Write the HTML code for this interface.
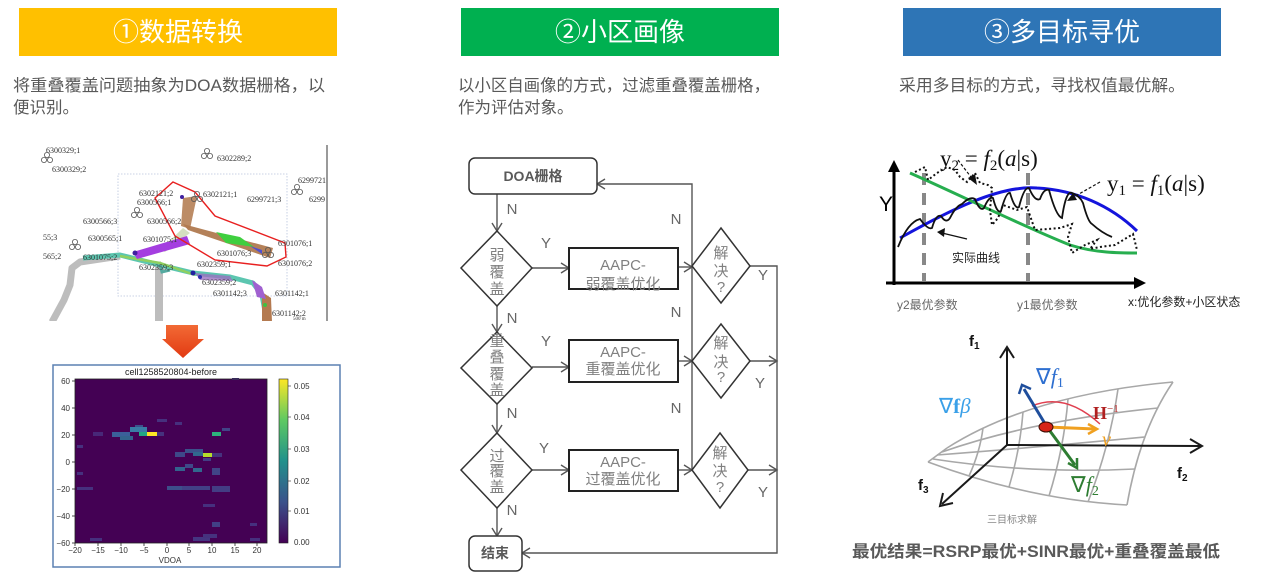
<!DOCTYPE html>
<html><head><meta charset="utf-8">
<style>
html,body{margin:0;padding:0;background:#fff;}
svg{display:block;}
.cjk{font-family:"Liberation Sans","Noto Sans CJK SC",sans-serif;}
</style></head>
<body>
<svg width="1267" height="577" viewBox="0 0 1267 577" xmlns="http://www.w3.org/2000/svg" class="cjk">
<defs>
<linearGradient id="vir" x1="0" y1="1" x2="0" y2="0">
<stop offset="0" stop-color="#440154"/><stop offset="0.25" stop-color="#3b528b"/><stop offset="0.5" stop-color="#21918c"/><stop offset="0.75" stop-color="#5ec962"/><stop offset="1" stop-color="#fde725"/>
</linearGradient>
<linearGradient id="redarr" x1="0" y1="0" x2="0" y2="1">
<stop offset="0" stop-color="#f26a35"/><stop offset="1" stop-color="#e23a12"/>
</linearGradient>
<clipPath id="mapclip"><rect x="40" y="145" width="289" height="176"/></clipPath>
<g id="fan"><circle cx="0" cy="-3" r="2.6" fill="none" stroke="#555" stroke-width="0.8"/><circle cx="-3" cy="2" r="2.6" fill="none" stroke="#555" stroke-width="0.8"/><circle cx="3" cy="2" r="2.6" fill="none" stroke="#555" stroke-width="0.8"/></g>
</defs>

<!-- Headers -->
<rect x="19" y="8" width="318" height="48" fill="#ffc000"/>
<text x="178" y="41" text-anchor="middle" font-size="26" fill="#fff">①数据转换</text>
<rect x="461" y="8" width="318" height="48" fill="#00b050"/>
<text x="620" y="41" text-anchor="middle" font-size="26" fill="#fff">②小区画像</text>
<rect x="903" y="8" width="318" height="48" fill="#2e75b6"/>
<text x="1062" y="41" text-anchor="middle" font-size="26" fill="#fff">③多目标寻优</text>

<!-- Description text -->
<g font-size="16.5" fill="#595959">
<text x="13" y="91" textLength="312" lengthAdjust="spacingAndGlyphs">将重叠覆盖问题抽象为DOA数据栅格，以</text>
<text x="13" y="113">便识别。</text>
<text x="458" y="91" textLength="312" lengthAdjust="spacingAndGlyphs">以小区自画像的方式，过滤重叠覆盖栅格，</text>
<text x="458" y="113">作为评估对象。</text>
<text x="899" y="91" textLength="286" lengthAdjust="spacingAndGlyphs">采用多目标的方式，寻找权值最优解。</text>
</g>

<!-- Map image -->
<g clip-path="url(#mapclip)">
<rect x="40" y="145" width="289" height="176" fill="#fff"/>
<rect x="118" y="174" width="169" height="122" fill="none" stroke="#b8c4dc" stroke-width="0.8" stroke-dasharray="1.5,1.5"/>
<line x1="327" y1="145" x2="327" y2="321" stroke="#9a9a9a" stroke-width="2"/>
<path d="M52,322 L64,300 L70,285 L72,268 L80,262 L120,256" fill="none" stroke="#bdbdbd" stroke-width="7" stroke-linejoin="round"/>
<path d="M159,322 L159,268 L163,264" fill="none" stroke="#bdbdbd" stroke-width="8"/>
<path d="M83,258 L120,255 L160,265 L193,273 L230,277 L253,283 L262,295 L267,322" fill="none" stroke="#5cc6b0" stroke-width="5" stroke-linejoin="round"/>
<path d="M120,256 L160,263 L195,275" fill="none" stroke="#8fd060" stroke-width="2.5"/>
<path d="M160,265 L162,272 L170,270" fill="none" stroke="#55aaa0" stroke-width="3"/>
<polygon points="183,198 197,196 190,229 181,226" fill="#b8865e" opacity="0.95"/>
<polygon points="183,224 188,230 270,258 273,248" fill="#b07a50" opacity="0.95"/>
<polygon points="183,228 160,250 165,252 190,233" fill="#c9d8b0" opacity="0.8"/>
<polygon points="216,232 240,237 254,247 226,243" fill="#3fcf3f"/>
<polygon points="133,252 187,236 190,244 137,259" fill="#a43ee0"/>
<polygon points="250,246 262,250 262,254" fill="#5050d0"/>
<polygon points="262,292 271,298 272,322 262,322" fill="#b47a50"/>
<polygon points="252,280 262,287 266,299 257,297" fill="#a060d0"/>
<polygon points="195,273 230,276 233,281 200,280" fill="#9a70c0" opacity="0.8"/>
<circle cx="193" cy="273" r="2.5" fill="#2020a0"/><circle cx="200" cy="277" r="2" fill="#3030b0"/>
<circle cx="135" cy="253" r="2.5" fill="#4020a0"/><circle cx="182" cy="197" r="2" fill="#4020a0"/>
<circle cx="265" cy="305" r="2" fill="#40c040"/>
<polygon points="173,182 195,192 215,216 285,243 286,257 267,266 215,260 175,236 155,198" fill="none" stroke="#e82020" stroke-width="1.4"/>
<g font-family="Liberation Serif,serif" font-size="8" fill="#333">
<text x="46" y="153">6300329;1</text>
<text x="52" y="172">6300329;2</text>
<text x="217" y="161">6302289;2</text>
<text x="298" y="183">6299721</text>
<text x="309" y="202">6299</text>
<text x="139" y="196">6302121;2</text>
<text x="203" y="197">6302121;1</text>
<text x="247" y="202">6299721;3</text>
<text x="137" y="205">6300566;1</text>
<text x="83" y="224">6300566;3</text>
<text x="147" y="224">6300566;2</text>
<text x="43" y="240">55;3</text>
<text x="88" y="241">6300565;1</text>
<text x="143" y="242">6301075;1</text>
<text x="278" y="246">6301076;1</text>
<text x="43" y="259">565;2</text>
<text x="83" y="260">6301075;2</text>
<text x="217" y="256">6301076;3</text>
<text x="278" y="266">6301076;2</text>
<text x="197" y="267">6302359;1</text>
<text x="139" y="270">6302359;3</text>
<text x="202" y="285">6302359;2</text>
<text x="213" y="296">6301142;3</text>
<text x="275" y="296">6301142;1</text>
<text x="272" y="316">6301142;2</text>
<text x="293" y="320" font-size="5">500 m</text>
</g>
<use href="#fan" x="137" y="213"/><use href="#fan" x="75" y="245"/><use href="#fan" x="297" y="190"/><use href="#fan" x="207" y="154"/><use href="#fan" x="47" y="158"/><use href="#fan" x="268" y="253"/><use href="#fan" x="197" y="197"/>
</g>

<!-- Red arrow -->
<polygon points="166,325 198,325 198,339 204,339 183,358 162,339 166,339" fill="url(#redarr)"/>

<!-- Heatmap -->
<rect x="53" y="365" width="287" height="202" fill="#fff" stroke="#5b80b2" stroke-width="1.5"/>
<text x="171" y="375" text-anchor="middle" font-size="9" fill="#222">cell1258520804-before</text>
<rect x="75" y="379" width="192" height="164" fill="#440154"/>
<g>
<rect x="147" y="432" width="10" height="4" fill="#fde725"/>
<rect x="139" y="432" width="8" height="4" fill="#22a884"/>
<rect x="130" y="427" width="17" height="5" fill="#3a7ca5"/>
<rect x="135" y="425" width="8" height="2" fill="#3b528b"/>
<rect x="112" y="432" width="18" height="5" fill="#3b5f9a"/>
<rect x="120" y="436" width="13" height="4" fill="#33638d"/>
<rect x="93" y="432" width="10" height="4" fill="#482878"/>
<rect x="157" y="432" width="7" height="4" fill="#46327e"/>
<rect x="212" y="432" width="9" height="4" fill="#2db27d"/>
<rect x="222" y="428" width="8" height="3" fill="#414487"/>
<rect x="203" y="453" width="9" height="4" fill="#b5de2b"/>
<rect x="185" y="449" width="18" height="4" fill="#3b528b"/>
<rect x="193" y="452" width="10" height="4" fill="#31688e"/>
<rect x="175" y="452" width="10" height="5" fill="#3e4989"/>
<rect x="212" y="453" width="10" height="4" fill="#46327e"/>
<rect x="203" y="458" width="8" height="3" fill="#433e85"/>
<rect x="175" y="467" width="10" height="4" fill="#33638d"/>
<rect x="185" y="464" width="8" height="4" fill="#3e4a89"/>
<rect x="193" y="468" width="9" height="4" fill="#31688e"/>
<rect x="212" y="468" width="8" height="7" fill="#414487"/>
<rect x="167" y="486" width="15" height="4" fill="#3d4e8a"/>
<rect x="182" y="486" width="28" height="4" fill="#424086"/>
<rect x="212" y="486" width="18" height="6" fill="#433d84"/>
<rect x="77" y="487" width="16" height="3" fill="#46307e"/>
<rect x="212" y="522" width="8" height="5" fill="#424086"/>
<rect x="193" y="537" width="17" height="4" fill="#453581"/>
<rect x="203" y="534" width="14" height="4" fill="#46327e"/>
<rect x="77" y="445" width="6" height="3" fill="#46307e"/>
<rect x="77" y="472" width="6" height="3" fill="#46307e"/>
<rect x="250" y="523" width="7" height="3" fill="#46307e"/>
<rect x="232" y="378" width="7" height="2" fill="#46307e"/>
<rect x="157" y="419" width="10" height="3" fill="#46307e"/>
<rect x="175" y="422" width="7" height="3" fill="#46307e"/>
<rect x="203" y="504" width="12" height="3" fill="#46307e"/>
<rect x="90" y="538" width="12" height="3" fill="#46307e"/>
<rect x="250" y="538" width="10" height="3" fill="#46307e"/>
</g>
<rect x="75" y="379" width="192" height="164" fill="none" stroke="#222" stroke-width="0.8"/>
<g stroke="#222" stroke-width="0.8">
<line x1="72" y1="381" x2="75" y2="381"/><line x1="72" y1="408" x2="75" y2="408"/><line x1="72" y1="435" x2="75" y2="435"/><line x1="72" y1="462" x2="75" y2="462"/><line x1="72" y1="489" x2="75" y2="489"/><line x1="72" y1="516" x2="75" y2="516"/><line x1="72" y1="543" x2="75" y2="543"/>
<line x1="75" y1="543" x2="75" y2="546"/><line x1="98" y1="543" x2="98" y2="546"/><line x1="121" y1="543" x2="121" y2="546"/><line x1="144" y1="543" x2="144" y2="546"/><line x1="167" y1="543" x2="167" y2="546"/><line x1="189" y1="543" x2="189" y2="546"/><line x1="212" y1="543" x2="212" y2="546"/><line x1="235" y1="543" x2="235" y2="546"/><line x1="257" y1="543" x2="257" y2="546"/>
</g>
<g font-size="8" fill="#333" text-anchor="end">
<text x="70" y="384">60</text><text x="70" y="411">40</text><text x="70" y="438">20</text><text x="70" y="465">0</text><text x="70" y="492">−20</text><text x="70" y="519">−40</text><text x="70" y="546">−60</text>
</g>
<g font-size="8" fill="#333" text-anchor="middle">
<text x="75" y="553">−20</text><text x="98" y="553">−15</text><text x="121" y="553">−10</text><text x="144" y="553">−5</text><text x="167" y="553">0</text><text x="189" y="553">5</text><text x="212" y="553">10</text><text x="235" y="553">15</text><text x="257" y="553">20</text>
<text x="170" y="563">VDOA</text>
</g>
<rect x="279" y="379" width="9" height="164" fill="url(#vir)" stroke="#222" stroke-width="0.6"/>
<g font-size="8" fill="#333">
<text x="294" y="389">0.05</text><text x="294" y="420">0.04</text><text x="294" y="452">0.03</text><text x="294" y="484">0.02</text><text x="294" y="514">0.01</text><text x="294" y="545">0.00</text>
</g>
<g stroke="#222" stroke-width="0.6"><line x1="288" y1="386" x2="291" y2="386"/><line x1="288" y1="417" x2="291" y2="417"/><line x1="288" y1="449" x2="291" y2="449"/><line x1="288" y1="481" x2="291" y2="481"/><line x1="288" y1="511" x2="291" y2="511"/></g>

<!-- Flowchart -->
<g fill="none" stroke="#555" stroke-width="1.4">
<line x1="497" y1="194" x2="497" y2="231"/><polyline points="492,223 497,231 502,223"/>
<line x1="532" y1="268" x2="569" y2="268"/><polyline points="561,263 569,268 561,273"/>
<line x1="678" y1="267" x2="692" y2="267"/><polyline points="684,262 692,267 684,272"/>
<polyline points="750,266 777,266 777,553 522,553"/><polyline points="530,548 522,553 530,558"/>
<polyline points="692,470 692,184 597,184"/><polyline points="605,179 597,184 605,189"/>
<line x1="497" y1="306" x2="497" y2="332"/><polyline points="492,324 497,332 502,324"/>
<line x1="532" y1="367" x2="569" y2="367"/><polyline points="561,362 569,367 561,372"/>
<line x1="678" y1="361" x2="692" y2="361"/><polyline points="684,356 692,361 684,366"/>
<line x1="750" y1="361" x2="777" y2="361"/><polyline points="769,356 777,361 769,366"/>
<line x1="497" y1="404" x2="497" y2="433"/><polyline points="492,425 497,433 502,425"/>
<line x1="532" y1="470" x2="569" y2="470"/><polyline points="561,465 569,470 561,475"/>
<line x1="678" y1="470" x2="692" y2="470"/><polyline points="684,465 692,470 684,475"/>
<line x1="748" y1="470" x2="777" y2="470"/><polyline points="769,465 777,470 769,475"/>
<line x1="497" y1="508" x2="497" y2="536"/><polyline points="492,528 497,536 502,528"/>
</g>
<g fill="#fff" stroke="#333" stroke-width="1.5">
<rect x="469" y="158" width="128" height="36" rx="6"/>
<polygon points="497,231 532,268 497,306 461,268"/>
<polygon points="721,228 750,266 721,303 692,266"/>
<polygon points="497,332 532,368 497,404 461,368"/>
<polygon points="721,324 750,361 721,398 692,361"/>
<polygon points="497,433 532,470 497,508 461,470"/>
<polygon points="720,433 748,470 720,508 692,470"/>
<rect x="469" y="536" width="53" height="35" rx="6"/>
</g>
<g fill="#fff" stroke="#222" stroke-width="2">
<rect x="569" y="248" width="109" height="41"/>
<rect x="569" y="340" width="109" height="42"/>
<rect x="569" y="450" width="109" height="41"/>
</g>
<g font-weight="bold" font-size="14" fill="#595959" text-anchor="middle">
<text x="533" y="181">DOA栅格</text>
<text x="495" y="558">结束</text>
</g>
<g font-size="15" fill="#808080" text-anchor="middle">
<text x="497" y="260">弱</text><text x="497" y="277">覆</text><text x="497" y="294">盖</text>
<text x="497" y="346">重</text><text x="497" y="362">叠</text><text x="497" y="379">覆</text><text x="497" y="395">盖</text>
<text x="497" y="461">过</text><text x="497" y="476">覆</text><text x="497" y="492">盖</text>
<text x="721" y="258">解</text><text x="721" y="276">决</text><text x="721" y="292">?</text>
<text x="721" y="348">解</text><text x="721" y="367">决</text><text x="721" y="382">?</text>
<text x="720" y="458">解</text><text x="720" y="476">决</text><text x="720" y="492">?</text>
<text x="623" y="270">AAPC-</text><text x="623" y="289">弱覆盖优化</text>
<text x="623" y="357">AAPC-</text><text x="623" y="374">重覆盖优化</text>
<text x="623" y="467">AAPC-</text><text x="623" y="484">过覆盖优化</text>
</g>
<g font-size="15" fill="#666" text-anchor="middle">
<text x="512" y="214">N</text><text x="512" y="323">N</text><text x="512" y="418">N</text><text x="512" y="515">N</text>
<text x="546" y="248">Y</text><text x="546" y="346">Y</text><text x="544" y="453">Y</text>
<text x="676" y="224">N</text><text x="676" y="317">N</text><text x="676" y="413">N</text>
<text x="763" y="280">Y</text><text x="760" y="388">Y</text><text x="763" y="497">Y</text>
</g>

<!-- Right upper chart -->
<g stroke="#888" stroke-width="4" stroke-dasharray="12,8">
<line x1="924" y1="173" x2="924" y2="281"/>
<line x1="1028" y1="173" x2="1028" y2="281"/>
</g>
<path d="M900,238 C950,210 1000,185 1037,188 C1075,190 1110,205 1137,231" fill="none" stroke="#1414dc" stroke-width="3"/>
<path d="M910,173 C960,195 1020,225 1070,245 C1095,253 1120,253 1137,253" fill="none" stroke="#27ae4f" stroke-width="3"/>
<path d="M898,247 Q908,222 920,219 Q928,230 932,228 Q936,214 941,216 Q946,224 950,218 Q956,206 962,204 Q970,196 975,199 Q980,212 984,208 Q989,196 993,198 Q997,214 1001,211 Q1006,192 1010,193 Q1015,210 1019,207 Q1024,187 1029,188 Q1035,202 1040,199 Q1044,188 1049,190 Q1056,216 1062,218 Q1066,190 1072,193 Q1080,196 1083,203 Q1088,222 1092,224 Q1102,233 1112,237" fill="none" stroke="#111" stroke-width="1.8"/>
<polyline points="915,172 925,167 928,180 937,173 947,167 955,170 960,177 967,182 975,173 980,183 988,185 992,188 990,210 992,225 998,218 1003,205 1017,210 1027,207 1035,230 1060,228 1072,224 1068,237 1072,253 1085,245 1097,240 1090,249 1100,247 1115,245 1133,234 1137,250" fill="none" stroke="#111" stroke-width="2" stroke-dasharray="2,2.5"/>
<line x1="958" y1="160" x2="974" y2="181" stroke="#111" stroke-width="1.2" stroke-dasharray="3,2"/>
<polygon points="977,185 968,178 975,174" fill="#111"/>
<line x1="1100" y1="182" x2="1072" y2="198" stroke="#111" stroke-width="1.2" stroke-dasharray="3,2"/>
<polygon points="1067,201 1073,193 1077,200" fill="#111"/>
<line x1="967" y1="239" x2="942" y2="233" stroke="#111" stroke-width="1.2"/>
<polygon points="937,232 945,228 944,237" fill="#111"/>
<line x1="894" y1="285" x2="894" y2="168" stroke="#000" stroke-width="3"/>
<polygon points="894,160 888,172 900,172" fill="#000"/>
<line x1="886" y1="283" x2="1138" y2="283" stroke="#000" stroke-width="3"/>
<polygon points="1146,283 1134,277 1134,289" fill="#000"/>
<text x="879" y="211" font-size="21" fill="#000">Y</text>
<text x="940" y="166" font-family="Liberation Serif,serif" font-size="23" fill="#111">y<tspan font-size="15" dy="4">2</tspan><tspan dy="-4"> = </tspan><tspan font-style="italic">f</tspan><tspan font-size="15" dy="4">2</tspan><tspan dy="-4">(</tspan><tspan font-style="italic">a</tspan>|s)</text>
<text x="1107" y="191" font-family="Liberation Serif,serif" font-size="23" fill="#111">y<tspan font-size="15" dy="4">1</tspan><tspan dy="-4"> = </tspan><tspan font-style="italic">f</tspan><tspan font-size="15" dy="4">1</tspan><tspan dy="-4">(</tspan><tspan font-style="italic">a</tspan>|s)</text>
<text x="952" y="262" font-size="12" fill="#222">实际曲线</text>
<text x="897" y="309" font-size="12" fill="#666">y2最优参数</text>
<text x="1017" y="309" font-size="12" fill="#666">y1最优参数</text>
<text x="1128" y="306" font-size="12" fill="#222">x:优化参数+小区状态</text>

<!-- Right lower 3D chart -->
<g fill="none" stroke="#a8a8a8" stroke-width="1.6">
<path d="M947,448 Q1030,395 1173,382"/>
<path d="M928,462 Q1030,500 1127,505"/>
<path d="M1173,382 Q1140,430 1127,505"/>
<path d="M947,448 L928,462"/>
<path d="M942,452 Q1030,421 1158,408"/>
<path d="M937,455 Q1030,448 1145,437"/>
<path d="M933,459 Q1030,474 1135,469"/>
<path d="M983,428 Q980,452 969,476"/>
<path d="M1023,412 Q1020,450 1009,487"/>
<path d="M1068,399 Q1064,448 1049,496"/>
<path d="M1118,389 Q1110,445 1088,502"/>
</g>
<g stroke="#1a1a1a" stroke-width="2" fill="none">
<line x1="1007" y1="445" x2="1007" y2="349"/><polyline points="1000,358 1007,347 1014,358"/>
<line x1="1007" y1="445" x2="1200" y2="446"/><polyline points="1190,439 1202,446 1190,453"/>
<line x1="1007" y1="445" x2="942" y2="504"/><polyline points="943,493 940,506 953,503"/>
</g>
<path d="M1032,406 Q1065,392 1100,424" fill="none" stroke="#e04050" stroke-width="1.5"/>
<line x1="1047" y1="427" x2="1024" y2="389" stroke="#1f4e9c" stroke-width="3"/>
<polyline points="1019,394 1022,385 1031,389" fill="none" stroke="#1f4e9c" stroke-width="2.5"/>
<line x1="1047" y1="427" x2="1095" y2="429" stroke="#f0a020" stroke-width="3"/>
<polyline points="1088,424 1097,429 1088,434" fill="none" stroke="#f0a020" stroke-width="2.5"/>
<line x1="1047" y1="427" x2="1075" y2="465" stroke="#2e7d32" stroke-width="3"/>
<polyline points="1068,463 1077,468 1077,458" fill="none" stroke="#2e7d32" stroke-width="2.5"/>
<ellipse cx="1046" cy="427" rx="7" ry="5" fill="#d62418" stroke="#3a0a00" stroke-width="1"/>
<g font-family="Liberation Serif,serif">
<text x="1036" y="384" font-size="22" fill="#2e6fd0">∇<tspan font-style="italic">f</tspan><tspan font-size="14" dy="3">1</tspan></text>
<text x="939" y="413" font-size="21" fill="#3aa0e8">∇<tspan font-weight="bold">f</tspan><tspan font-style="italic">β</tspan></text>
<text x="1093" y="419" font-size="18" font-weight="bold" fill="#b02020">H<tspan font-size="11" dy="-7" font-weight="normal">−1</tspan></text>
<text x="1102" y="446" font-size="20" font-style="italic" fill="#f0a020">v</text>
<text x="1071" y="492" font-size="22" fill="#2e7d32">∇<tspan font-style="italic">f</tspan><tspan font-size="14" dy="3">2</tspan></text>
<text x="987" y="523" font-size="10" fill="#888" class="cjk">三目标求解</text>
</g>
<g font-weight="bold" fill="#111">
<text x="969" y="346" font-size="15">f<tspan font-size="10" dy="3">1</tspan></text>
<text x="1177" y="478" font-size="15">f<tspan font-size="10" dy="3">2</tspan></text>
<text x="918" y="490" font-size="15">f<tspan font-size="10" dy="3">3</tspan></text>
</g>
<text x="852" y="557" font-size="16.5" font-weight="bold" fill="#595959" textLength="368" lengthAdjust="spacingAndGlyphs">最优结果=RSRP最优+SINR最优+重叠覆盖最低</text>
</svg>
</body></html>
